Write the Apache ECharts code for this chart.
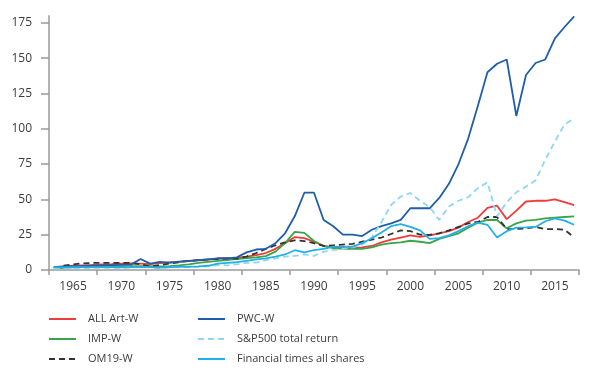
<!DOCTYPE html>
<html>
<head>
<meta charset="utf-8">
<script src="https://cdn.jsdelivr.net/npm/echarts@6/dist/echarts.min.js"></script>
<style>
html,body{margin:0;padding:0;background:#fff;}
#chart{width:604px;height:380px;}
</style>
</head>
<body>
<div id="chart"></div>
<script>
var years = [1963,1964,1965,1966,1967,1968,1969,1970,1971,1972,
  1973,1974,1975,1976,1977,1978,1979,1980,1981,1982,
  1983,1984,1985,1986,1987,1988,1989,1990,1991,1992,
  1993,1994,1995,1996,1997,1998,1999,2000,2001,2002,
  2003,2004,2005,2006,2007,2008,2009,2010,2011,2012,
  2013,2014,2015,2016,2017];

var allArtW = [2,2.5,3,3.3,3.6,4,4.2,4.5,4.7,4.5,
  4.2,4.8,5.3,5.8,6.3,6.8,7.3,8,8.3,8.8,
  9.5,10.5,12,15,19,23.3,22.5,20,17,16,
  15.5,15.5,16,17,19.5,21.5,23,24.5,23.5,24.5,
  26,27.5,30,34,37,44,45.5,36,42,48.5,
  49,49,50,48,46];

var impW = [1.2,1.5,1.8,2,2.2,2.4,2.5,2.6,2.7,2.8,
  2.7,2.6,2.8,3.2,4,5,5.8,6.5,7,7.8,
  8.5,9,9.8,13,19,27,26.3,20.5,17,15.5,
  15,15,15,16,18,19,19.5,20.7,20,19,
  22,24,26,30,33.5,35.4,35.4,29.5,33,35,
  35.5,36.5,37,37.5,38];

var om19W = [1.5,3,4,4.7,5,5,5,5,5,4,
  2.5,3.5,4.5,5.5,6.5,7,7.5,7.8,8,8,
  9.5,12,15,17.5,19.5,21,20.5,19,17,17.5,
  18,18.5,20,21.5,23,25.5,28,27.5,25,24.8,
  26,28,30.5,33,34,37.5,37.5,29,29,29.5,
  30.5,29,29,28.5,23];

var pwcW = [2,2.3,2.6,2.8,3,3.2,3.4,3.6,3.8,7.8,
  4.5,5.8,5.2,6,6.5,7,7.5,8.3,8.3,9,
  12.5,14.5,15,19,26,38,54.7,54.7,35.4,31,
  25,25,24,28.5,31,33,35.5,43.7,43.7,43.7,
  51,61,75,93,116,140,146,149,109,138,
  146.5,149,164,172,179.5];

var sp500 = [1,1.2,1.3,1.2,1.5,1.6,1.5,1.5,1.8,2.1,
  1.8,1.3,1.8,2.2,2.1,2.2,2.6,3.5,3.3,4,
  5,5.3,7,8.3,9.5,10,11,10,13,14,
  15,16,18,23,34,46,52,54.5,49,44.5,
  35.5,45,49,51.5,58,62,38,48,55,59,
  63.5,78,91,103,107.5];

var ftAll = [2,1.8,2,2,2,2.1,2,1.9,2,2.2,
  2,1.7,2,2.2,2.3,2.5,3,4.5,5,5.5,
  6.5,7.5,8.3,9.5,11,14,12.5,14,15,16.5,
  16.5,16.5,19,22.5,26.5,31,32.5,30.5,28,22,
  22.5,24.5,27.5,31,33.5,32,23,27.5,30,30.2,
  30.5,34.5,36.5,35,32];

var xTickValues = [1962.5,1967.5,1972.5,1977.5,1982.5,1987.5,1992.5,1997.5,2002.5,2007.5,2012.5,2017.5];
var xLabelValues = [1965,1970,1975,1980,1985,1990,1995,2000,2005,2010,2015];
var yTickValues = [0,25,50,75,100,125,150,175];

var seriesNames = ['ALL Art-W','IMP-W','OM19-W','PWC-W','S&P500 total return','Financial times all shares'];

function pairs(vals){ return years.map(function(y,i){ return [y, vals[i]]; }); }

var chart = echarts.init(document.getElementById('chart'), null, {renderer:'canvas'});
var font = 'Open Sans';
var axisColor = '#9a9a9a';
var textColor = '#3c3c3c';

var defs = [
  {name: seriesNames[0], data: allArtW, color:'#ee3b3b', type:'solid'},
  {name: seriesNames[1], data: impW, color:'#3aa548', type:'solid'},
  {name: seriesNames[2], data: om19W, color:'#333333', type:[6,4]},
  {name: seriesNames[3], data: pwcW, color:'#1f5ea8', type:'solid'},
  {name: seriesNames[4], data: sp500, color:'#8ed6f6', type:[6,4]},
  {name: seriesNames[5], data: ftAll, color:'#22b0e6', type:'solid'}
];

var legendCommon = {
  orient:'vertical', padding:0, itemWidth:27, itemHeight:10, itemGap:6,
  itemStyle:{color:'rgba(0,0,0,0)', borderColor:'rgba(0,0,0,0)', borderWidth:0, opacity:0},
  textStyle:{fontFamily:font, fontSize:11, lineHeight:14, color:textColor, padding:[0,0,0,7]}
};

chart.setOption({
  animation:false,
  backgroundColor:'#fff',
  grid:{left:49, right:25, top:15.7, bottom:110, containLabel:false},
  xAxis:{
    type:'value', min:1962.5, max:2017.5,
    splitLine:{show:false},
    axisLine:{show:true, lineStyle:{color:axisColor, width:1.5}},
    axisTick:{show:true, length:5, customValues:xTickValues, lineStyle:{color:axisColor, width:1.5}},
    axisLabel:{customValues:xLabelValues, margin:11, fontFamily:font, fontSize:12, color:textColor,
      formatter:function(v){ return String(v); }}
  },
  yAxis:{
    type:'value', min:0, max:180,
    splitLine:{show:false},
    axisLine:{show:true, lineStyle:{color:axisColor, width:1.5}},
    axisTick:{show:true, length:8, customValues:yTickValues, lineStyle:{color:axisColor, width:1.5}},
    axisLabel:{customValues:yTickValues, margin:17, fontFamily:font, fontSize:12, color:textColor}
  },
  legend:[
    Object.assign({left:48, top:312, data:seriesNames.slice(0,3)}, legendCommon),
    Object.assign({left:197, top:312, data:seriesNames.slice(3,6)}, legendCommon)
  ],
  series: defs.map(function(d){
    return {
      name:d.name, type:'line', data:pairs(d.data), symbol:'none', smooth:false,
      lineStyle:{color:d.color, width:1.8, type:d.type},
      itemStyle:{color:d.color}
    };
  })
});
</script>
</body>
</html>
